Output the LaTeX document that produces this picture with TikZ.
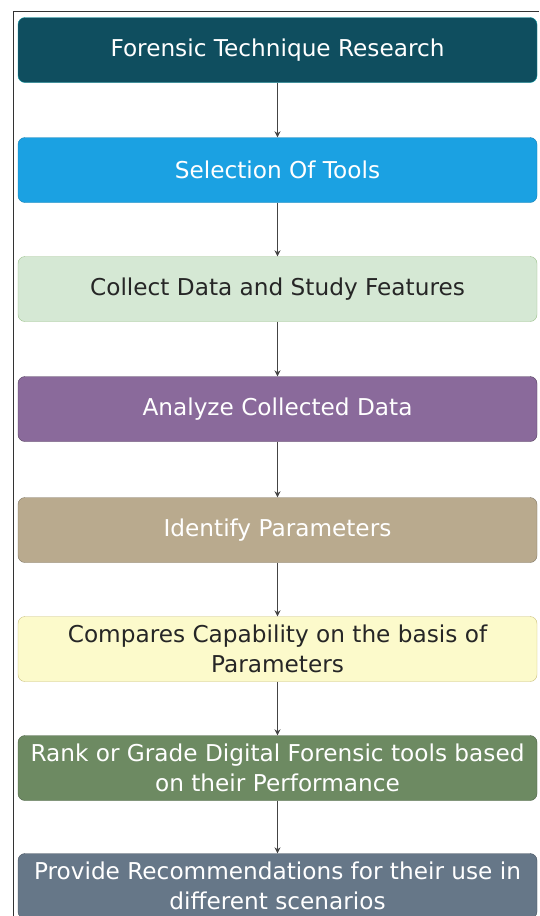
\documentclass[tikz,border=0pt]{standalone}
\usepackage{fontspec}
\setmainfont{DejaVu Sans}
\usetikzlibrary{arrows.meta}

\definecolor{tealdark}{HTML}{0F4E5F}
\definecolor{skyblue}{HTML}{1BA1E2}
\definecolor{mintfill}{HTML}{D5E8D4}
\definecolor{mintline}{HTML}{9AC08A}
\definecolor{purplefill}{HTML}{8A6A9B}
\definecolor{tanfill}{HTML}{B9AA8E}
\definecolor{creamfill}{HTML}{FCFACB}
\definecolor{creamline}{HTML}{C9BE7A}
\definecolor{olivefill}{HTML}{6D8A62}
\definecolor{slatefill}{HTML}{667788}
\definecolor{arrowgray}{HTML}{444444}

\begin{document}
\begin{tikzpicture}[
            x = 1pt, y = -1pt,
            stage/.style = {draw, rounded corners = 7pt, minimum width = 519pt, minimum height = 65pt,
                            inner sep = 0pt, align = center, font = \fontsize{23.2}{30}\selectfont},
            dark/.style = {stage, text = white},
            light/.style = {stage, text = black!85},
            arr/.style = {draw, arrowgray, thick, -{Stealth[length = 6pt, width = 6pt]}},
        ]
        \useasboundingbox (0,0) rectangle (539,916);
        \clip (0,0) rectangle (539,916);

        % outer frame
        \draw[black!80, thick] (13,916) -- (13,11) -- (539,11);

        \node (research) [dark, fill = tealdark, draw = tealdark!60!cyan] at (277.5,50) {Forensic Technique Research};
        \node (tools) [dark, fill = skyblue, draw = skyblue!80!black] at (277.5,170) {Selection Of Tools};
        \node (collect) [light, fill = mintfill, draw = mintline] at (277.5,289) {Collect Data and Study Features};
        \node (analyze) [dark, fill = purplefill, draw = purplefill!60!black] at (277.5,409) {Analyze Collected Data};
        \node (params) [dark, fill = tanfill, draw = tanfill!70!black] at (277.5,530) {Identify Parameters};
        \node (compare) [light, fill = creamfill, draw = creamline] at (277.5,649) {Compares Capability on the basis of\\Parameters};
        \node (rank) [dark, fill = olivefill, draw = olivefill!70!black] at (277.5,768) {Rank or Grade Digital Forensic tools based\\on their Performance};
        \node (recommend) [dark, fill = slatefill, draw = slatefill!70!black] at (277.5,886) {Provide Recommendations for their use in\\different scenarios};

        \path[arr] (research) -- (tools);
        \path[arr] (tools) -- (collect);
        \path[arr] (collect) -- (analyze);
        \path[arr] (analyze) -- (params);
        \path[arr] (params) -- (compare);
        \path[arr] (compare) -- (rank);
        \path[arr] (rank) -- (recommend);
    \end{tikzpicture}
\end{document}
